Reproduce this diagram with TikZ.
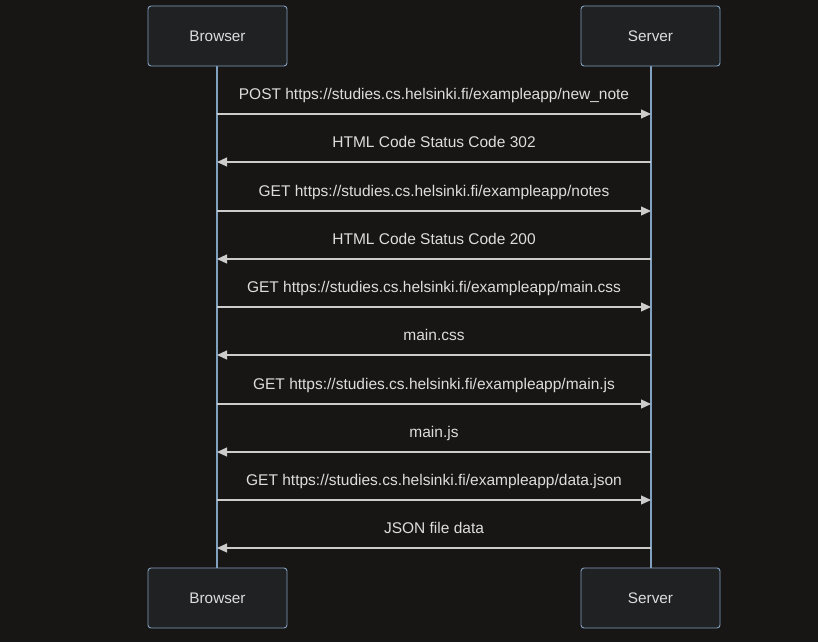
\documentclass[tikz,border=0pt]{standalone}
\usepackage{fontspec}
\setmainfont{Liberation Sans}
\usetikzlibrary{arrows.meta}
\definecolor{bg}{HTML}{181515}
\definecolor{boxfill}{HTML}{1F2122}
\definecolor{boxline}{HTML}{81A1C1}
\definecolor{txt}{HTML}{DDDDDD}
\definecolor{msg}{HTML}{CCCCCC}
\tikzset{
  actor/.style={draw=boxline, fill=boxfill, rounded corners=3pt, line width=0.9pt,
    minimum width=139pt, minimum height=60pt, text=txt, font=\fontsize{15.3}{17}\selectfont},
  life/.style={draw=boxline, line width=1.4pt},
  msgline/.style={draw=msg, line width=1.2pt, -{Triangle[length=10pt,width=9pt]}},
  lbl/.style={text=txt, font=\fontsize{15.5}{17}\selectfont, anchor=base, inner sep=0pt, yshift=15pt, midway}
}
\begin{document}
\begin{tikzpicture}[x=1pt,y=-1pt]
\fill[bg] (0,0) rectangle (818,642);
\useasboundingbox (0,0) rectangle (818,642);
\draw[life] (217,66) -- (217,568);
\draw[life] (651,66) -- (651,568);
\node[actor] (bt) at (217.5,36) {Browser};
\node[actor] (st) at (650.5,36) {Server};
\node[actor] (bb) at (217.5,598) {Browser};
\node[actor] (sb) at (650.5,598) {Server};
\foreach \i/\y in {1/114,2/162,3/211,4/259,5/307,6/355,7/404,8/452,9/500,10/548}{
  \coordinate (b\i) at (217,\y);
  \coordinate (s\i) at (651,\y);
}
\draw[msgline] (b1) -- node[lbl]{POST https://studies.cs.helsinki.fi/exampleapp/new\_note} (s1);
\draw[msgline] (s2) -- node[lbl]{HTML Code Status Code 302} (b2);
\draw[msgline] (b3) -- node[lbl]{GET https://studies.cs.helsinki.fi/exampleapp/notes} (s3);
\draw[msgline] (s4) -- node[lbl]{HTML Code Status Code 200} (b4);
\draw[msgline] (b5) -- node[lbl]{GET https://studies.cs.helsinki.fi/exampleapp/main.css} (s5);
\draw[msgline] (s6) -- node[lbl]{main.css} (b6);
\draw[msgline] (b7) -- node[lbl]{GET https://studies.cs.helsinki.fi/exampleapp/main.js} (s7);
\draw[msgline] (s8) -- node[lbl]{main.js} (b8);
\draw[msgline] (b9) -- node[lbl]{GET https://studies.cs.helsinki.fi/exampleapp/data.json} (s9);
\draw[msgline] (s10) -- node[lbl]{JSON file data} (b10);
\end{tikzpicture}
\end{document}
